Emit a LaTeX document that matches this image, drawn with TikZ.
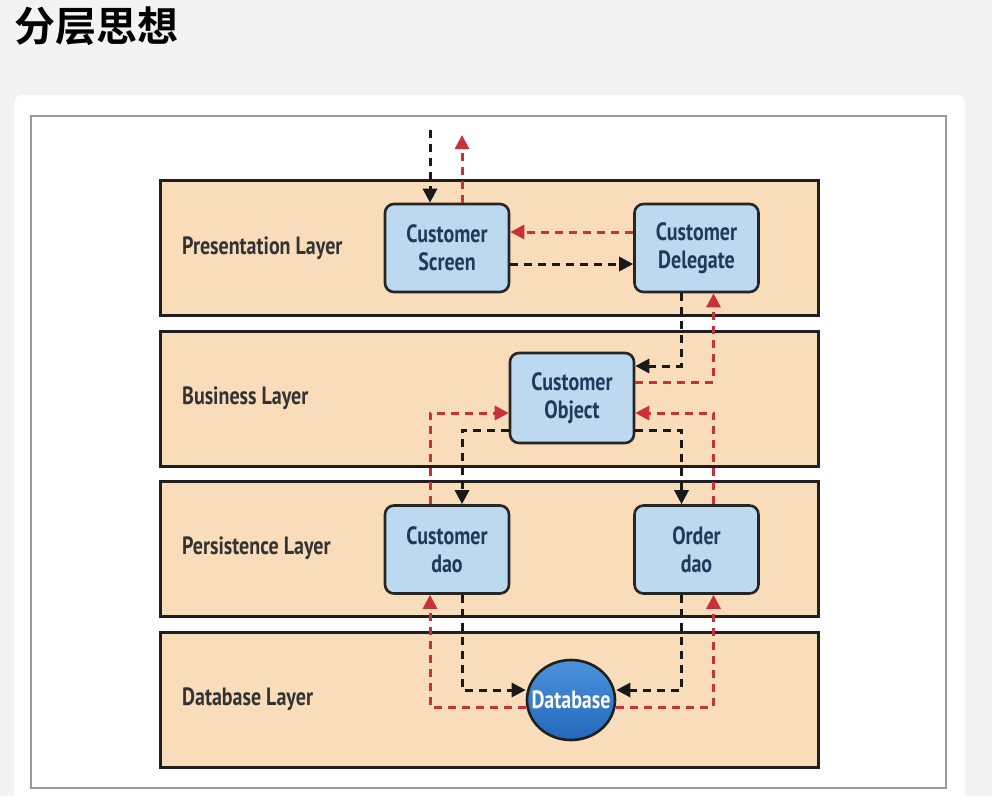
\documentclass[tikz,border=0pt]{standalone}
\usepackage{fontspec}
\usetikzlibrary{arrows.meta,shapes.geometric}
\newfontfamily\cond{PT Sans Bold}[FakeStretch=0.8]
\newfontfamily\cjkbold{Noto Sans CJK SC Bold}
\definecolor{pagegray}{HTML}{F3F3F3}
\definecolor{framegray}{HTML}{9A9A9A}
\definecolor{tan}{HTML}{F9DCBA}
\definecolor{compblue}{HTML}{BCD9F0}
\definecolor{navy}{HTML}{1F3A5A}
\definecolor{arrred}{HTML}{C8303A}
\definecolor{dbtop}{HTML}{4D93DB}
\definecolor{dbbot}{HTML}{2467BC}
\begin{document}
\begin{tikzpicture}[x=1pt,y=-1pt,
  layer/.style={draw=black!88,line width=3pt,fill=tan,minimum width=658pt,minimum height=135pt,inner sep=0pt},
  lname/.style={anchor=west,inner sep=0pt,font=\cond\fontsize{25}{28}\selectfont,text=black!80},
  comp/.style={draw=black!85,line width=2.6pt,rounded corners=9pt,fill=compblue,minimum width=124pt,minimum height=88pt,
    inner sep=0pt,align=center,text=navy,font=\cond\fontsize{25}{28}\selectfont},
  req/.style={draw=black!90,line width=3pt,dash pattern=on 8pt off 6pt,-{Triangle[length=14pt,width=14pt]}},
  resp/.style={draw=arrred,line width=3pt,dash pattern=on 8pt off 6pt,-{Triangle[length=14pt,width=14pt]}}]

  % page and card
  \useasboundingbox (0,0) rectangle (992,796);
  \fill[pagegray] (0,0) rectangle (992,796);
  \fill[white,rounded corners=8pt] (14,95) rectangle (965,812);
  \draw[framegray,line width=2pt] (31,116) rectangle (946,788);

  \node[anchor=west,inner sep=0pt,font=\cjkbold\fontsize{41}{41}\selectfont] (title) at (14,26) {分层思想};

  % layers
  \node[layer] (pres) at (489,248) {};
  \node[layer] (bus) at (489,398.5) {};
  \node[layer] (pers) at (489,548.5) {};
  \node[layer] (dbl) at (489,699.5) {};

  \node[lname] (presname) at (182,248) {Presentation Layer};
  \node[lname] (busname) at (182,398.5) {Business Layer};
  \node[lname] (persname) at (182,548.5) {Persistence Layer};
  \node[lname] (dbname) at (182,699.5) {Database Layer};

  % components
  \node[comp] (screen) at (447,248) {Customer\\Screen};
  \node[comp] (delegate) at (696.5,248) {Customer\\Delegate};
  \node[comp,minimum height=90pt] (object) at (572,398) {Customer\\Object};
  \node[comp] (cdao) at (447,549.5) {Customer\\dao};
  \node[comp] (odao) at (696.5,549.5) {Order\\dao};
  \node[ellipse,draw=black!88,line width=2.6pt,top color=dbtop,bottom color=dbbot,minimum width=88pt,minimum height=80pt,
    inner xsep=-18pt,inner ysep=0pt,text=white,font=\cond\fontsize{25}{26}\selectfont] (db) at (571,700) {Database};

  \coordinate (in) at (430,130);
  \coordinate (out) at (462,135);

  % requests and responses
  \draw[req] (in) -- (in |- screen.north);
  \draw[resp] (out |- screen.north) -- (out);
  \draw[resp] ([yshift=16pt]delegate.west) -- ([yshift=16pt]screen.east);
  \draw[req] ([yshift=-16pt]screen.east) -- ([yshift=-16pt]delegate.west);
  \draw[req] ([xshift=-15pt]delegate.south) |- ([yshift=32pt]object.east);
  \draw[resp] ([yshift=16pt]object.east) -| ([xshift=17pt]delegate.south);
  \draw[resp] ([xshift=-17pt]cdao.north) |- ([yshift=-15pt]object.west);
  \draw[req] ([yshift=-32pt]object.west) -| ([xshift=15pt]cdao.north);
  \draw[req] ([yshift=-32pt]object.east) -| ([xshift=-15pt]odao.north);
  \draw[resp] ([xshift=17pt]odao.north) |- ([yshift=-15pt]object.east);
  \draw[req] ([xshift=15pt]cdao.south) |- ([yshift=10pt]db.west);
  \draw[resp] ([yshift=-7pt]db.west) -| ([xshift=-17pt]cdao.south);
  \draw[req] ([xshift=-15pt]odao.south) |- ([yshift=10pt]db.east);
  \draw[resp] ([yshift=-7pt]db.east) -| ([xshift=17pt]odao.south);

\end{tikzpicture}
\end{document}
